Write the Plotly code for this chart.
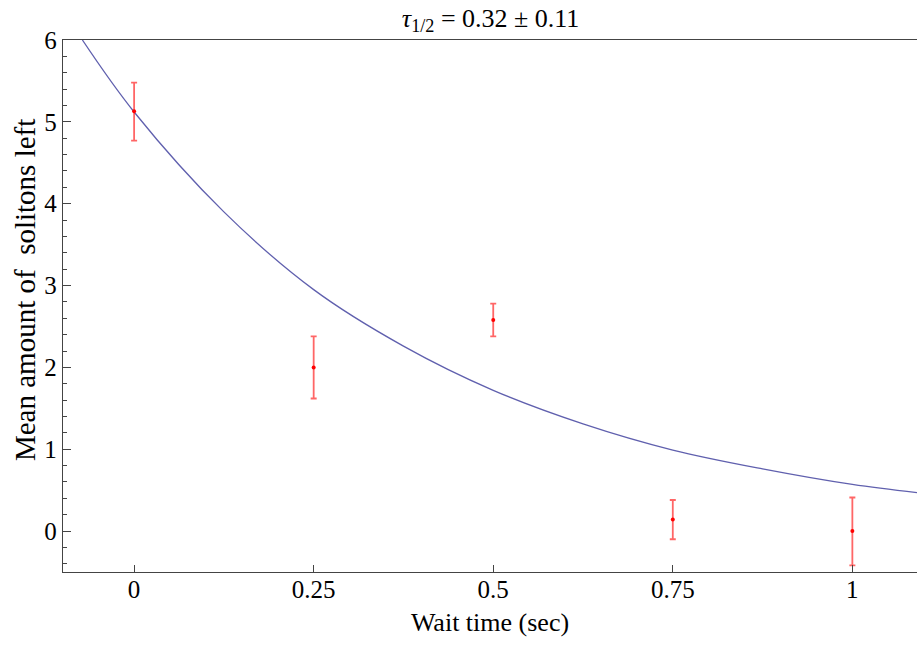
import plotly.graph_objects as go

# Measured data (wait time in sec, mean solitons left, error)
wait_time = [0, 0.25, 0.5, 0.75, 1.0]
mean_left = [5.13, 2.0, 2.58, 0.14, 0.0]
err_plus = [0.35, 0.38, 0.20, 0.24, 0.41]
err_minus = [0.36, 0.38, 0.20, 0.24, 0.42]

# Fit curve
fit_x = [-0.072, 0, 0.125, 0.25, 0.375, 0.5, 0.625, 0.75, 0.875, 1.0, 1.09]
fit_y = [6.0, 5.12, 3.90, 2.95, 2.26, 1.72, 1.31, 0.99, 0.76, 0.57, 0.47]

x_tickvals = [0, 0.25, 0.5, 0.75, 1]
x_ticktext = ["0", "0.25", "0.5", "0.75", "1"]
y_tickvals = [0, 1, 2, 3, 4, 5, 6]

FONT = "Liberation Serif"

fig = go.Figure()
fig.add_trace(go.Scatter(
    x=fit_x, y=fit_y, mode="lines", line=dict(color="#6060ae", width=1.3, shape="spline"),
    hoverinfo="skip", showlegend=False))
fig.add_trace(go.Scatter(
    x=wait_time, y=mean_left, mode="markers",
    marker=dict(color="red", size=4),
    error_y=dict(type="data", symmetric=False, array=err_plus, arrayminus=err_minus,
                 color="rgba(255,0,0,0.6)", thickness=1.8, width=3),
    showlegend=False))

axis_common = dict(
    showgrid=False, zeroline=False, showline=True, linecolor="#444444", linewidth=1.3,
    mirror=True, ticks="inside", tickcolor="#444444", tickwidth=1,
    tickfont=dict(family=FONT, size=25, color="black"),
)
fig.update_xaxes(**axis_common, range=[-0.099, 1.09], tickvals=x_tickvals, ticktext=x_ticktext,
                 ticklen=7, ticklabelstandoff=-5,
                 title=dict(text="Wait time (sec)", font=dict(family=FONT, size=26, color="black"),
                            standoff=10))
fig.update_yaxes(**axis_common, range=[-0.5, 6], tickvals=y_tickvals, ticklen=8,
                 minor=dict(ticks="inside", dtick=0.2, ticklen=4, tickcolor="#444444", showgrid=False))

fig.add_annotation(
    text="Mean amount of\u00a0 solitons left", textangle=-90,
    xref="paper", yref="paper", x=-0.0445, y=0.530, xanchor="center", yanchor="middle",
    showarrow=False, font=dict(family=FONT, size=29, color="black"))

fig.update_layout(
    width=917, height=649,
    margin=dict(l=63, r=0, t=40, b=77),
    paper_bgcolor="white", plot_bgcolor="white",
    title=dict(text="<i>τ</i><sub>1/2</sub> = 0.32 ± 0.11", x=0.535, xanchor="center",
               y=0.973, yanchor="middle", font=dict(family=FONT, size=26, color="black")),
)

fig.write_html("out.html")
